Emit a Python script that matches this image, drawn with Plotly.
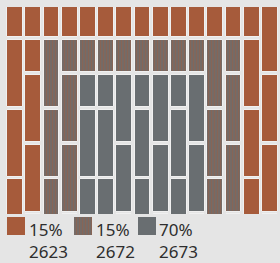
import plotly.graph_objects as go

# ---- data ----
categories = ["2623", "2672", "2673"]
percent_labels = ["15%", "15%", "70%"]
category_codes = ["O", "S", "G"]  # orange, striped, gray

# tile spans (in half-rows) for each of the 15 columns, top to bottom
column_spans = [
    "1222", "11221", "1222", "11221", "11122", "11122", "11221", "11122",
    "11221", "11122", "11221", "1222", "11221", "1222", "2221",
]
# category code of each tile, same order
column_kinds = [
    "OOOO", "OOOOO", "OSSS", "OSSSS", "OSGGG", "OSGGG", "OSGGG", "OSGGG",
    "OSGGG", "OSGGG", "OSGGG", "OSSS", "OSSSS", "OOOO", "OOOO",
]

# ---- style ----
ORANGE = "#a65b3b"
GRAY = "#696e71"
BG = "#e5e5e5"
EDGE = "#f0f0f0"
GAP = 0.08
W, H = 280, 263

tiles = {c: {"x": [], "base": [], "y": []} for c in category_codes}
for col, (spans, kinds) in enumerate(zip(column_spans, column_kinds)):
    row = 0
    for s, k in zip(spans, kinds):
        s = int(s)
        tiles[k]["x"].append(col)
        tiles[k]["base"].append(row + GAP / 2)
        tiles[k]["y"].append(s - GAP)
        row += s

fig = go.Figure()
styles = {
    "O": dict(color=ORANGE),
    "S": dict(color=GRAY, pattern=dict(shape="|", fgcolor=ORANGE,
                                       size=3, solidity=0.6, fillmode="overlay")),
    "G": dict(color=GRAY),
}
for code, name in zip(category_codes, categories):
    t = tiles[code]
    fig.add_trace(go.Bar(
        x=t["x"], base=t["base"], y=t["y"], width=0.86, name=name,
        marker=dict(line=dict(color=EDGE, width=1), **styles[code]),
        hoverinfo="skip", showlegend=False,
    ))

# legend swatches drawn on a second axis
leg_x = [16, 83, 147]
leg_text_x = [28, 95, 158]
for i, code in enumerate(category_codes):
    fig.add_trace(go.Bar(
        x=[leg_x[i]], base=[217], y=[18], width=18,
        marker=dict(line=dict(width=0), **styles[code]),
        xaxis="x2", yaxis="y2", hoverinfo="skip", showlegend=False,
    ))
    fig.add_annotation(x=leg_text_x[i] / W, y=1 - 240 / H, xref="paper", yref="paper",
                       text=f"{percent_labels[i]}<br>{categories[i]}", showarrow=False,
                       xanchor="left", yanchor="middle", align="left", borderpad=0,
                       font=dict(size=17, color="#2e2e2e"))

fig.update_layout(
    width=W, height=H, margin=dict(l=0, r=0, t=0, b=0),
    paper_bgcolor=BG, plot_bgcolor=BG, barmode="overlay", bargap=0,
    font=dict(family="Noto Sans"),
    xaxis=dict(domain=[6 / W, 279 / W], range=[-0.5, 14.5], visible=False, fixedrange=True),
    yaxis=dict(domain=[1 - 214 / H, 1 - 7 / H], range=[6.031, 0.093], visible=False, fixedrange=True),
    xaxis2=dict(domain=[0, 1], range=[0, W], visible=False, anchor="y2", fixedrange=True),
    yaxis2=dict(domain=[0, 49 / H], range=[263, 214], visible=False, anchor="x2", fixedrange=True),
)

fig.write_html("out.html", config={"displayModeBar": False},
               post_script="document.body.style.margin='0';document.body.style.overflow='hidden';")
